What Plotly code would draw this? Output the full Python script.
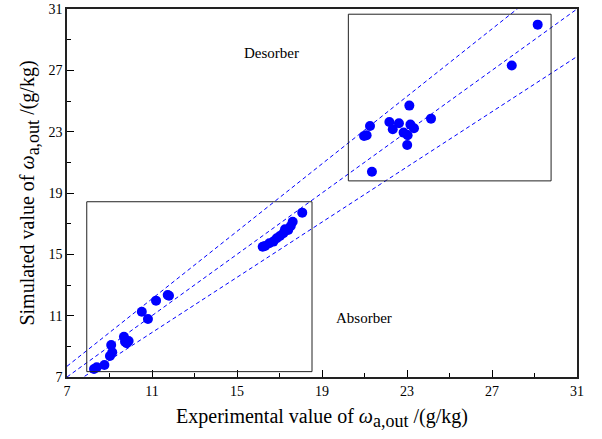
import plotly.graph_objects as go

# Absorber data (experimental, simulated)
abs_exp = [8.27, 8.40, 8.76, 9.02, 9.13, 9.08, 9.68, 9.81, 9.90, 9.73, 10.52, 10.81, 11.19, 11.74, 11.80,
           16.21, 16.32, 16.52, 16.71, 16.87, 17.02, 17.18, 17.26, 17.41, 17.53, 17.62, 18.07]
abs_sim = [7.52, 7.63, 7.78, 8.37, 8.61, 9.09, 9.63, 9.20, 9.35, 9.30, 11.26, 10.78, 11.98, 12.35, 12.30,
           15.50, 15.55, 15.72, 15.83, 16.05, 16.20, 16.37, 16.63, 16.59, 16.85, 17.13, 17.72]

# Desorber data
des_exp = [29.15, 27.93, 23.11, 24.13, 21.26, 22.17, 22.62, 22.33, 23.16, 23.33, 22.84, 23.03, 20.98, 21.10, 23.01, 21.35]
des_sim = [29.98, 27.31, 24.70, 23.85, 23.37, 23.63, 23.55, 23.16, 23.46, 23.22, 22.94, 22.77, 22.72, 22.77, 22.13, 20.39]

# Reference lines: simulated = ratio * experimental
ratios = [1.1, 1.0, 0.9]
line_x = [7, 31]

# Region boxes [x0, x1, y0, y1]
absorber_box = [7.93, 18.53, 7.35, 18.43]
desorber_box = [20.24, 29.78, 19.79, 30.66]

tick_vals = [7, 11, 15, 19, 23, 27, 31]

FONT = "Liberation Serif, Times New Roman, serif"
SUB = '<sub><span style="font-size:18px">a,out</span></sub>'

fig = go.Figure()
for r in ratios:
    fig.add_trace(go.Scatter(x=line_x, y=[r * v for v in line_x], mode="lines",
                             line=dict(color="#0000FF", width=1, dash="4px,3px"),
                             showlegend=False, hoverinfo="skip"))

fig.add_trace(go.Scatter(x=abs_exp, y=abs_sim, mode="markers",
                         marker=dict(color="#0000FF", size=10), showlegend=False))
fig.add_trace(go.Scatter(x=des_exp, y=des_sim, mode="markers",
                         marker=dict(color="#0000FF", size=10), showlegend=False))

for b in [absorber_box, desorber_box]:
    fig.add_shape(type="rect", xref="x", yref="y", x0=b[0], x1=b[1], y0=b[2], y1=b[3],
                  line=dict(color="#222222", width=1))

fig.add_annotation(x=16.6, y=28.13, text="Desorber", showarrow=False,
                   font=dict(family=FONT, size=15, color="black"))
fig.add_annotation(x=20.98, y=10.85, text="Absorber", showarrow=False,
                   font=dict(family=FONT, size=15, color="black"))

axis_common = dict(range=[7, 31], tickvals=tick_vals, ticktext=[str(v) for v in tick_vals],
                   ticks="inside", ticklen=7, tickwidth=1.2, tickcolor="black",
                   showline=True, linecolor="#222", linewidth=1.6, mirror=True,
                   showgrid=False, zeroline=False, automargin=False,
                   tickfont=dict(family=FONT, size=14, color="black"),
                   minor=dict(ticks="inside", ticklen=4, tickwidth=1.2, tickcolor="black",
                              tick0=7, dtick=2, showgrid=False))

fig.update_xaxes(**axis_common,
                 title=dict(text="Experimental value of <i>ω</i>" + SUB + " /(g/kg)",
                            font=dict(family=FONT, size=20, color="black"), standoff=11))
fig.update_yaxes(**axis_common,
                 title=dict(text="Simulated value of <i>ω</i>" + SUB + " /(g/kg)",
                            font=dict(family=FONT, size=20, color="black"), standoff=8))

fig.update_layout(width=602, height=439, margin=dict(l=67, r=25, t=9, b=62),
                  plot_bgcolor="white", paper_bgcolor="white", showlegend=False)

fig.write_html("out.html")
